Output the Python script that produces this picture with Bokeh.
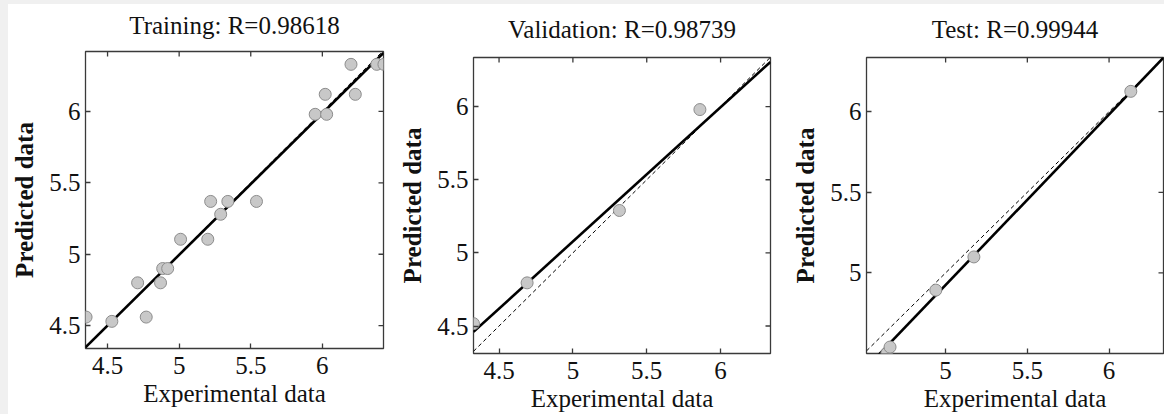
import math
from bokeh.plotting import figure
from bokeh.models import FixedTicker, LinearAxis, Range1d
from bokeh.layouts import row
from bokeh.embed import file_html
from bokeh.resources import INLINE

FONT = "Liberation Serif"

# ---- data -------------------------------------------------------------
titles = ["Training: R=0.98618", "Validation: R=0.98739", "Test: R=0.99944"]

train_exp = [4.35, 4.53, 4.77, 4.71, 4.87, 4.885, 4.92, 5.01, 5.20, 5.22,
             5.29, 5.34, 5.54, 5.95, 6.03, 6.02, 6.20, 6.23, 6.38, 6.43]
train_pred = [4.56, 4.53, 4.56, 4.80, 4.80, 4.90, 4.90, 5.105, 5.105, 5.37,
              5.28, 5.37, 5.37, 5.98, 5.98, 6.12, 6.33, 6.12, 6.33, 6.33]

val_exp = [4.327, 4.69, 5.315, 5.86]
val_pred = [4.516, 4.795, 5.29, 5.98]

test_exp = [4.64, 4.66, 4.94, 5.173, 6.133]
test_pred = [4.50, 4.54, 4.893, 5.099, 6.126]

fit_slope = [0.991, 0.918, 1.058]
fit_intercept = [0.041, 0.488, -0.365]

x_limits = [(4.346, 6.427), (4.327, 6.338), (4.516, 6.333)]
y_limits = [(4.34, 6.42), (4.312, 6.336), (4.50, 6.336)]

tick_values = [[4.5, 5, 5.5, 6], [4.5, 5, 5.5, 6], [5, 5.5, 6]]
tick_labels = [["4.5", "5", "5.5", "6"], ["4.5", "5", "5.5", "6"], ["5", "5.5", "6"]]

x_label = "Experimental data"
y_label = "Predicted data"

# ---- layout (px) ------------------------------------------------------
sizes = [(385, 410), (392, 410), (379, 410)]
borders = [(77, 10, 47, 66), (80, 15, 53, 59), (81, 1, 53, 60)]  # left,right,top,bottom
title_standoff = [13, 15, 15]

INK = "#111111"
FRAME = "#3a3a3a"


def panel(i, xs, ys):
    w, h = sizes[i]
    bl, br, bt, bb = borders[i]
    x0, x1 = x_limits[i]
    y0, y1 = y_limits[i]
    p = figure(width=w, height=h, output_backend="svg", toolbar_location=None,
               x_range=Range1d(x0, x1), y_range=Range1d(y0, y1),
               x_axis_location=None, y_axis_location=None,
               min_border_left=bl, min_border_right=br,
               min_border_top=bt, min_border_bottom=bb,
               background_fill_color="white", border_fill_color="white")
    # keep each box where it is instead of lining the three boxes up
    if "frame_align" in p.properties():
        try:
            p.frame_align = False
        except Exception:
            pass
    p.grid.visible = False
    p.outline_line_color = FRAME
    p.outline_line_width = 1.3

    ticks = FixedTicker(ticks=tick_values[i])
    overrides = {v: s for v, s in zip(tick_values[i], tick_labels[i])}

    for loc in ("below", "left"):
        ax = LinearAxis(ticker=ticks, major_label_overrides=overrides)
        ax.axis_line_color = None
        ax.major_tick_in = 5
        ax.major_tick_out = 0
        ax.minor_tick_in = 0
        ax.minor_tick_out = 0
        ax.major_tick_line_color = FRAME
        ax.major_tick_line_width = 1.3
        ax.minor_tick_line_color = None
        ax.major_label_text_font = FONT
        ax.major_label_text_font_size = "25px"
        ax.major_label_text_color = INK
        ax.axis_label_text_font = FONT
        ax.axis_label_text_font_size = "25px"
        ax.axis_label_text_color = INK
        if loc == "below":
            ax.axis_label = x_label
            ax.axis_label_text_font_style = "normal"
            ax.major_label_standoff = 8
            ax.axis_label_standoff = 3
        else:
            ax.axis_label = y_label
            ax.axis_label_text_font_style = "bold"
            ax.major_label_standoff = 5
            ax.axis_label_standoff = 8
        p.add_layout(ax, loc)

    # title, carried as the label of a tick-less axis on top of the box
    top = LinearAxis(ticker=FixedTicker(ticks=[]), axis_label=titles[i])
    top.axis_line_color = None
    top.major_tick_line_color = None
    top.minor_tick_line_color = None
    top.major_tick_in = 0
    top.major_tick_out = 0
    top.minor_tick_in = 0
    top.minor_tick_out = 0
    top.major_label_standoff = 0
    top.axis_label_standoff = title_standoff[i]
    top.axis_label_text_font = FONT
    top.axis_label_text_font_size = "25px"
    top.axis_label_text_font_style = "normal"
    top.axis_label_text_color = INK
    p.add_layout(top, "above")

    # mirror tick marks on the top and right edges of the box
    n = len(tick_values[i])
    p.scatter(tick_values[i], [y1] * n, marker="dash", angle=math.pi / 2,
              size=10, line_color=FRAME, line_width=1.3)
    p.scatter([x1] * n, tick_values[i], marker="dash",
              size=10, line_color=FRAME, line_width=1.3)

    lx = [x0, x1]
    p.line(lx, lx, line_color="black", line_width=1, line_dash="4 3")
    p.line(lx, [fit_slope[i] * v + fit_intercept[i] for v in lx],
           line_color="black", line_width=2.6)
    p.scatter(xs, ys, size=12, fill_color="#c8c8c8", line_color="#8c8c8c",
              line_width=1)
    return p


p1 = panel(0, train_exp, train_pred)
p2 = panel(1, val_exp, val_pred)
p3 = panel(2, test_exp, test_pred)

layout = row(p1, p2, p3)
layout.margin = (4, 0, 0, 8)
layout.styles = {"background-color": "white"}
html = file_html(layout, INLINE)
html = html.replace("</head>",
                    "<style>html, body { background: #f0f0f0 !important; }</style></head>", 1)
open("out.html", "w").write(html)
